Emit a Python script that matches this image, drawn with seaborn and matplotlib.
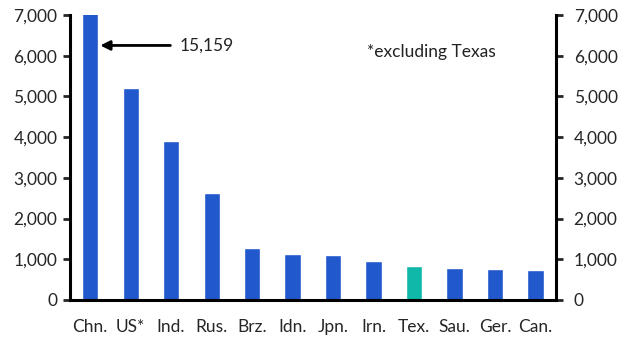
#!/usr/bin/env python3
# coding=utf-8
import matplotlib
matplotlib.use('Agg')
import matplotlib.pyplot as plt
import matplotlib.ticker as ticker
import numpy as np
import pandas as pd
import seaborn as sns

countries = ['Chn.', 'US*', 'Ind.', 'Rus.', 'Brz.', 'Idn.', 'Jpn.', 'Irn.', 'Tex.', 'Sau.', 'Ger.', 'Can.']
values = [15159, 5200, 3900, 2620, 1270, 1130, 1100, 960, 840, 790, 770, 740]
highlight = 'Tex.'

BLUE = '#2158CC'
TEAL = '#10B8A9'


def main():
    df = pd.DataFrame({'country': countries, 'value': values})
    palette = {c: (TEAL if c == highlight else BLUE) for c in countries}

    sns.set_style('white')
    plt.rcParams['font.family'] = ['Lato', 'DejaVu Sans']
    plt.rcParams['font.size'] = 12.5

    fig, ax = plt.subplots(figsize=(6.3, 3.55), dpi=100)
    fig.subplots_adjust(left=0.111, right=0.882, top=0.958, bottom=0.155)

    sns.barplot(data=df, x='country', y='value', hue='country', palette=palette,
                order=countries, width=0.4, legend=False, ax=ax, saturation=1)

    ax.set_ylim(0, 7000)
    ax.set_xlim(-0.5, len(countries) - 0.5)
    ax.set_xlabel('')
    ax.set_ylabel('')
    ax.yaxis.set_major_locator(ticker.MultipleLocator(1000))
    ax.yaxis.set_major_formatter(ticker.StrMethodFormatter('{x:,.0f}'))

    # tick marks between categories, labels under bars
    ax.set_xticks(np.arange(len(countries)))
    ax.set_xticklabels(countries)
    ax.set_xticks(np.arange(len(countries) + 1) - 0.5, minor=True)
    ax.tick_params(axis='x', which='major', length=0, pad=14, labelsize=12.5)
    ax.tick_params(axis='x', which='minor', length=5, width=2, direction='out')

    ax2 = ax.twinx()
    ax2.set_ylim(ax.get_ylim())
    ax2.yaxis.set_major_locator(ticker.MultipleLocator(1000))
    ax2.yaxis.set_major_formatter(ticker.StrMethodFormatter('{x:,.0f}'))

    for a in (ax, ax2):
        a.tick_params(axis='y', length=5, width=2, direction='out', labelsize=12.5, pad=4)
        for s in a.spines.values():
            s.set_visible(False)
    ax.spines['left'].set_visible(True)
    ax.spines['bottom'].set_visible(True)
    ax2.spines['right'].set_visible(True)
    for s in (ax.spines['left'], ax.spines['bottom'], ax2.spines['right']):
        s.set_linewidth(2.2)
        s.set_color('black')
    ax2.tick_params(axis='y', pad=8)

    ax.annotate('{:,}'.format(values[0]), xy=(0.25, 6250), xytext=(2.2, 6250),
                va='center', ha='left', fontsize=12.5, color='#222222',
                arrowprops=dict(arrowstyle='-|>', color='black', lw=2,
                                mutation_scale=14, shrinkA=4, shrinkB=0))
    ax.text(6.85, 6100, '*excluding Texas', fontsize=12.5, va='center', ha='left', color='#222222')

    plt.savefig('out.png', dpi=100)
    plt.close('all')


if __name__ == '__main__':
    main()
